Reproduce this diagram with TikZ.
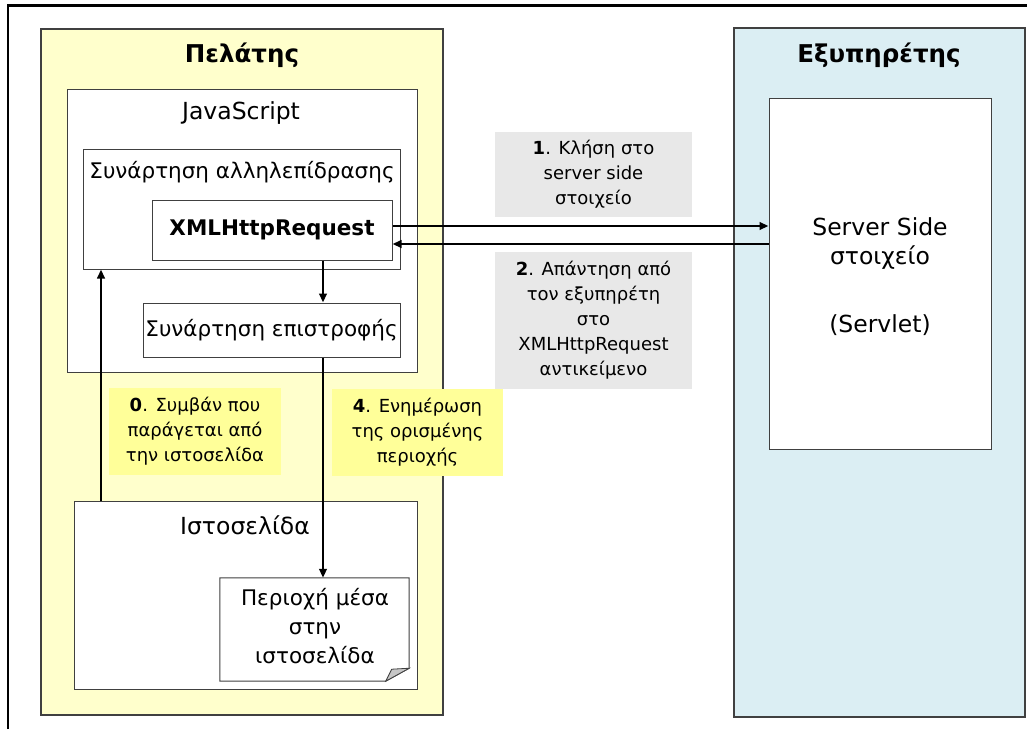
\documentclass[tikz,border=0pt]{standalone}
\usepackage{fontspec}
\setmainfont{DejaVu Sans}
\usetikzlibrary{arrows.meta}

\definecolor{clientfill}{HTML}{FFFFCC}
\definecolor{serverfill}{HTML}{DBEEF3}
\definecolor{notefill}{HTML}{FFFF99}
\definecolor{stepfill}{HTML}{E8E8E8}
\definecolor{edge}{HTML}{404040}

\tikzset{
  panel/.style={draw=edge, line width=1.1pt, inner sep=0pt},
  box/.style={draw=edge, fill=white, line width=1pt, inner sep=0pt},
  maintext/.style={font=\fontsize{23.5}{29}\selectfont, align=center, inner sep=0pt},
  greektext/.style={font=\fontsize{21.5}{29}\selectfont, align=center, inner sep=0pt},
  titletext/.style={font=\fontsize{24.5}{29}\selectfont\bfseries, inner sep=0pt},
  steplabel/.style={inner sep=0pt, align=center, font=\fontsize{18}{25}\selectfont},
  flow/.style={line width=2.3pt, -{Triangle[length=9pt, width=7.5pt]}},
}

\begin{document}
\begin{tikzpicture}[x=1pt, y=-1pt]
\useasboundingbox (0,0) rectangle (1027,729);

% frame lines along the top and the left side
\draw[line width=2.2pt] (8,729) -- (8,5.5) -- (1027,5.5);

% client side
\node[panel, fill=clientfill, minimum width=402, minimum height=686] (client) at (242,372) {};
\node[titletext] (clienttitle) at (242,55) {Πελάτης};

\node[box, minimum width=350, minimum height=283] (js) at (242,230.5) {};
\node[maintext] (jstitle) at (241,113) {JavaScript};

\node[box, minimum width=317, minimum height=120] (inter) at (241.5,209) {};
\node[greektext] (intertitle) at (242,172) {Συνάρτηση αλληλεπίδρασης};

\node[box, minimum width=240, minimum height=60, font=\fontsize{21.5}{29}\selectfont\bfseries] (xhr) at (272,230) {XMLHttpRequest};

\node[box, minimum width=257, minimum height=54, font=\fontsize{21.5}{29}\selectfont] (cb) at (271.5,330) {Συνάρτηση επιστροφής};

\node[box, minimum width=343, minimum height=188] (web) at (245.5,595) {};
\node[maintext] (webtitle) at (245,525) {Ιστοσελίδα};

% page region drawn as a sheet with a turned-up corner
\node[minimum width=189, minimum height=103, inner sep=0pt] (note) at (314.5,629.5) {};
\draw[draw=edge, fill=white, line width=1pt]
  (note.north west) -- (note.north east) -- ([yshift=13]note.south east)
  -- ([xshift=-23.5]note.south east) -- (note.south west) -- cycle;
\fill[fill=gray!45, draw=edge, line width=0.8pt]
  ([xshift=-23.5]note.south east) -- ([yshift=13]note.south east)
  -- ([xshift=-17.5,yshift=12]note.south east) -- cycle;
\node[greektext] (notetext) at (315,626) {Περιοχή μέσα\\στην\\ιστοσελίδα};

% step labels inside the client
\node[fill=notefill, minimum width=172, minimum height=87, steplabel] (step0) at (195,431.5)
  {\textbf{0}. Συμβάν που\\παράγεται από\\την ιστοσελίδα};
\node[fill=notefill, minimum width=171, minimum height=87, steplabel] (step4) at (417.5,432.5)
  {\textbf{4}. Ενημέρωση\\της ορισμένης\\περιοχής};

% server side
\node[panel, fill=serverfill, minimum width=291, minimum height=689] (server) at (879.5,372.5) {};
\node[titletext] (servertitle) at (879,55) {Εξυπηρέτης};

\node[box, minimum width=222, minimum height=351] (srv) at (880,273.5) {};
\node[maintext] (srvtext) at (880,243.5) {Server Side\\στοιχείο};
\node[maintext] (srvname) at (880,325) {(Servlet)};

% request / response labels
\node[fill=stepfill, minimum width=197, minimum height=85, steplabel] (step1) at (593.5,174.5)
  {\textbf{1}. Κλήση στο\\server side\\στοιχείο};
\node[fill=stepfill, minimum width=197, minimum height=137, steplabel] (step2) at (593.5,320.5)
  {\textbf{2}. Απάντηση από\\τον εξυπηρέτη\\στο\\XMLHttpRequest\\αντικείμενο};

% connectors
\coordinate (rise) at (101,0);
\coordinate (drop) at (323,0);
\coordinate (req) at (0,226);
\coordinate (rsp) at (0,244);

\draw[flow] (web.north -| rise) -- (inter.south -| rise);
\draw[flow] (xhr.south -| drop) -- (cb.north -| drop);
\draw[flow] (cb.south -| drop) -- (note.north -| drop);
\draw[flow] (xhr.east |- req) -- (srv.west |- req);
\draw[flow] (srv.west |- rsp) -- (xhr.east |- rsp);
\end{tikzpicture}
\end{document}
